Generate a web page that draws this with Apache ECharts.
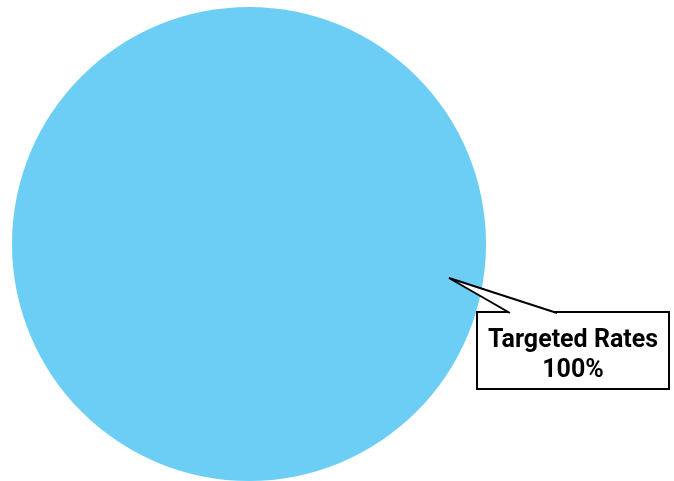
<!DOCTYPE html>
<html>
<head>
<meta charset="utf-8">
<script src="https://cdn.jsdelivr.net/npm/echarts@6/dist/echarts.min.js"></script>
<style>
  html, body { margin: 0; padding: 0; background: #ffffff; }
  #chart { width: 674px; height: 481px; }
</style>
</head>
<body>
<div id="chart"></div>
<script>
// Share of funding by source
const categories = ['Targeted Rates'];
const shares = [100];
const sliceColors = ['#6ccef5'];

const chart = echarts.init(document.getElementById('chart'), null, { renderer: 'canvas' });

const pieData = categories.map((name, i) => ({
  name: name,
  value: shares[i],
  itemStyle: { color: sliceColors[i] }
}));

const labelFont = {
  fontFamily: 'Roboto, Liberation Sans, Arial, sans-serif',
  fontWeight: 'bold',
  fontSize: 25,
  lineHeight: 30,
  color: '#000000'
};

chart.setOption({
  animation: false,
  backgroundColor: '#ffffff',
  series: [{
    type: 'pie',
    center: [249, 244],
    radius: 237,
    startAngle: 90,
    silent: true,
    data: pieData,
    label: {
      show: true,
      // a thin spacer row keeps the two text rows low in the box
      formatter: '{s| }\n{t|{b}}\n{t|{d}%}',
      align: 'center',
      width: 186,
      backgroundColor: '#ffffff',
      borderColor: '#000000',
      borderWidth: 2,
      padding: [3, 2, 2, 2],
      rich: {
        s: { fontSize: 1, lineHeight: 10 },
        t: labelFont
      }
    },
    labelLine: { show: false },
    labelLayout: function () {
      return { x: 573, y: 350.5, align: 'center', verticalAlign: 'middle' };
    }
  }],
  graphic: [
    // callout pointer: white wedge opening into the label box
    {
      type: 'polygon',
      z: 100,
      shape: { points: [[449, 278], [510, 313], [510, 314.5], [557, 314.5], [557, 313]] },
      style: { fill: '#ffffff', stroke: null }
    },
    {
      type: 'polyline',
      z: 101,
      shape: { points: [[510, 313], [449, 278], [557, 313]] },
      style: { stroke: '#000000', lineWidth: 2, fill: null, lineJoin: 'miter', miterLimit: 4 }
    }
  ]
});
</script>
</body>
</html>
